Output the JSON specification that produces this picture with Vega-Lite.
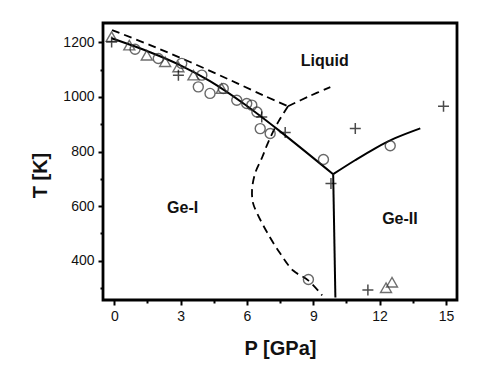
{
  "$schema": "https://vega.github.io/schema/vega-lite/v6.json",
  "width": 354,
  "height": 277,
  "autosize": {"type": "none"},
  "padding": {"left": 103, "top": 23, "right": 23, "bottom": 67},
  "config": {
    "view": {"stroke": "black", "strokeWidth": 2.8},
    "axis": {"grid": false, "domain": false, "tickColor": "black", "tickWidth": 2, "labelFont": "Liberation Sans", "titleFont": "Liberation Sans", "labelColor": "#111", "titleColor": "#111", "labelFontSize": 14, "format": "d"}
  },
  "datasets": {
    "lines": [
      {"s": "melt1", "o": 1, "P": -0.12, "T": 1215},
      {"s": "melt1", "o": 2, "P": 1.62, "T": 1164},
      {"s": "melt1", "o": 3, "P": 2.97, "T": 1117},
      {"s": "melt1", "o": 4, "P": 4.33, "T": 1058},
      {"s": "melt1", "o": 5, "P": 5.83, "T": 977},
      {"s": "melt1", "o": 6, "P": 7.5, "T": 874},
      {"s": "melt1", "o": 7, "P": 9.9, "T": 717},
      {"s": "melt2", "o": 1, "P": 9.9, "T": 717},
      {"s": "melt2", "o": 2, "P": 10.89, "T": 768},
      {"s": "melt2", "o": 3, "P": 11.8, "T": 812},
      {"s": "melt2", "o": 4, "P": 12.7, "T": 849},
      {"s": "melt2", "o": 5, "P": 13.84, "T": 885},
      {"s": "vert", "o": 1, "P": 9.9, "T": 717},
      {"s": "vert", "o": 2, "P": 10.0, "T": 265},
      {"s": "dashA", "o": 1, "P": -0.1, "T": 1245},
      {"s": "dashA", "o": 2, "P": 1.62, "T": 1190},
      {"s": "dashA", "o": 3, "P": 3.43, "T": 1128},
      {"s": "dashA", "o": 4, "P": 5.24, "T": 1062},
      {"s": "dashA", "o": 5, "P": 6.82, "T": 1003},
      {"s": "dashA", "o": 6, "P": 7.86, "T": 966},
      {"s": "dashB", "o": 1, "P": 7.86, "T": 966},
      {"s": "dashB", "o": 2, "P": 8.77, "T": 1001},
      {"s": "dashB", "o": 3, "P": 9.77, "T": 1036},
      {"s": "dashC", "o": 1, "P": 7.86, "T": 966},
      {"s": "dashC", "o": 2, "P": 7.41, "T": 908},
      {"s": "dashC", "o": 3, "P": 6.96, "T": 834},
      {"s": "dashC", "o": 4, "P": 6.69, "T": 779},
      {"s": "dashC", "o": 5, "P": 6.37, "T": 720},
      {"s": "dashC", "o": 6, "P": 6.23, "T": 658},
      {"s": "dashC", "o": 7, "P": 6.28, "T": 610},
      {"s": "dashC", "o": 8, "P": 6.46, "T": 574},
      {"s": "dashC", "o": 9, "P": 6.91, "T": 504},
      {"s": "dashC", "o": 10, "P": 7.5, "T": 427},
      {"s": "dashC", "o": 11, "P": 8.09, "T": 364},
      {"s": "dashC", "o": 12, "P": 8.77, "T": 328},
      {"s": "dashC", "o": 13, "P": 9.4, "T": 273}
    ],
    "pts": [
      {"k": "circle", "P": 0.94, "T": 1175},
      {"k": "circle", "P": 1.99, "T": 1141},
      {"k": "circle", "P": 3.05, "T": 1123},
      {"k": "circle", "P": 3.8, "T": 1037},
      {"k": "circle", "P": 3.96, "T": 1080},
      {"k": "circle", "P": 4.33, "T": 1013},
      {"k": "circle", "P": 4.93, "T": 1031},
      {"k": "circle", "P": 5.54, "T": 988},
      {"k": "circle", "P": 5.99, "T": 976},
      {"k": "circle", "P": 6.22, "T": 970},
      {"k": "circle", "P": 6.45, "T": 945},
      {"k": "circle", "P": 6.6, "T": 884},
      {"k": "circle", "P": 7.05, "T": 866},
      {"k": "circle", "P": 9.46, "T": 771},
      {"k": "circle", "P": 12.48, "T": 821},
      {"k": "circle", "P": 8.78, "T": 331},
      {"k": "tri", "P": -0.12, "T": 1221},
      {"k": "tri", "P": 0.68, "T": 1190},
      {"k": "tri", "P": 1.47, "T": 1153},
      {"k": "tri", "P": 2.3, "T": 1129},
      {"k": "tri", "P": 2.9, "T": 1110},
      {"k": "tri", "P": 3.58, "T": 1080},
      {"k": "tri", "P": 4.86, "T": 1031},
      {"k": "tri", "P": 12.29, "T": 301},
      {"k": "tri", "P": 12.56, "T": 321},
      {"k": "plus", "P": -0.12, "T": 1201},
      {"k": "plus", "P": 2.9, "T": 1080},
      {"k": "plus", "P": 6.67, "T": 927},
      {"k": "plus", "P": 7.73, "T": 870},
      {"k": "plus", "P": 10.9, "T": 884},
      {"k": "plus", "P": 14.89, "T": 966},
      {"k": "plus", "P": 9.8, "T": 683},
      {"k": "plus", "P": 11.47, "T": 293}
    ],
    "labels": [
      {"txt": "Liquid", "P": 9.52, "T": 1131},
      {"txt": "Ge-I", "P": 3.09, "T": 594},
      {"txt": "Ge-II", "P": 12.92, "T": 551}
    ]
  },
  "encoding": {
    "x": {"field": "P", "type": "quantitative", "scale": {"domain": [-0.51, 15.5], "nice": false, "zero": false}, "axis": null},
    "y": {"field": "T", "type": "quantitative", "scale": {"domain": [256, 1271], "nice": false, "zero": false}, "axis": null}
  },
  "layer": [
    {
      "data": {"name": "lines"},
      "transform": [{"filter": "datum.s === 'melt1' || datum.s === 'melt2' || datum.s === 'vert'"}],
      "mark": {"type": "line", "color": "black", "strokeWidth": 2, "interpolate": "catmull-rom"},
      "encoding": {
        "x": {"field": "P", "type": "quantitative", "scale": {"domain": [-0.51, 15.5], "nice": false, "zero": false},
          "axis": {"orient": "bottom", "values": [1.5, 4.5, 7.5, 10.5, 13.5], "tickSize": 3, "labels": false, "title": null}},
        "y": {"field": "T", "type": "quantitative", "scale": {"domain": [256, 1271], "nice": false, "zero": false},
          "axis": {"orient": "left", "values": [300, 500, 700, 900, 1100], "tickSize": 3, "labels": false, "title": null}},
        "detail": {"field": "s"},
        "order": {"field": "o", "type": "quantitative"}
      }
    },
    {
      "data": {"name": "lines"},
      "transform": [{"filter": "datum.s === 'dashA' || datum.s === 'dashB' || datum.s === 'dashC'"}],
      "mark": {"type": "line", "color": "black", "strokeWidth": 1.8, "strokeDash": [8, 5], "interpolate": "catmull-rom"},
      "encoding": {
        "x": {"field": "P", "type": "quantitative", "scale": {"domain": [-0.51, 15.5], "nice": false, "zero": false},
          "axis": {"orient": "bottom", "values": [0, 3, 6, 9, 12, 15], "tickSize": 5, "labelPadding": 4, "title": "P [GPa]", "titleFontSize": 20, "titleFontWeight": "bold", "titleX": 177, "titleY": 54, "titleAlign": "center", "titleBaseline": "alphabetic"}},
        "y": {"field": "T", "type": "quantitative", "scale": {"domain": [256, 1271], "nice": false, "zero": false},
          "axis": {"orient": "left", "values": [400, 600, 800, 1000, 1200], "tickSize": 5, "labelPadding": 4, "title": "T [K]", "titleFontSize": 20, "titleFontWeight": "bold", "titleX": -63, "titleY": 152, "titleAngle": -90, "titleAlign": "center", "titleBaseline": "middle"}},
        "detail": {"field": "s"},
        "order": {"field": "o", "type": "quantitative"}
      }
    },
    {
      "data": {"name": "pts"},
      "transform": [{"filter": "datum.k === 'circle'"}],
      "mark": {"type": "point", "shape": "circle", "filled": false, "size": 100, "stroke": "#2a2a2a", "strokeWidth": 1.4}
    },
    {
      "data": {"name": "pts"},
      "transform": [{"filter": "datum.k === 'tri'"}],
      "mark": {"type": "point", "shape": "triangle-up", "filled": false, "size": 120, "stroke": "#333", "strokeWidth": 1.4}
    },
    {
      "data": {"name": "pts"},
      "transform": [{"filter": "datum.k === 'plus'"}],
      "mark": {"type": "point", "shape": "M-1,0H1M0,-1V1", "filled": false, "size": 121, "stroke": "black", "strokeWidth": 1.5}
    },
    {
      "data": {"name": "labels"},
      "mark": {"type": "text", "font": "Liberation Sans", "fontSize": 16, "fontWeight": "bold", "color": "#111", "align": "center", "baseline": "middle"},
      "encoding": {"text": {"field": "txt"}}
    }
  ],
  "resolve": {"axis": {"x": "independent", "y": "independent"}}
}
